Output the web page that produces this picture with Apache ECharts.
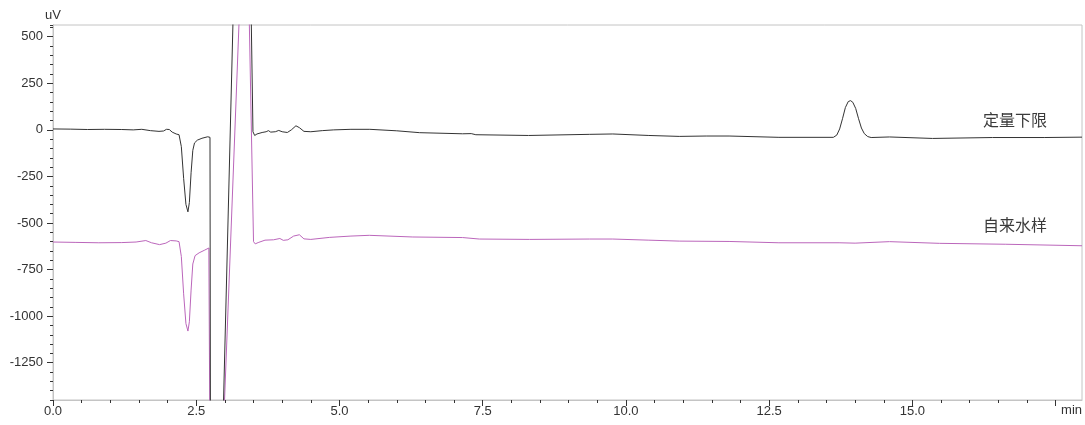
<!DOCTYPE html>
<html>
<head>
<meta charset="utf-8">
<script src="https://cdn.jsdelivr.net/npm/echarts@6/dist/echarts.min.js"></script>
<style>
html,body{margin:0;padding:0;background:#fff;}
#chart{width:1085px;height:425px;}
</style>
</head>
<body>
<div id="chart"></div>
<script>
// ---- data ----
const seriesNames = ['定量下限', '自来水样'];
const seriesColors = ['#333333', '#bb66bb'];

const timeA = [0.00,0.30,0.60,0.90,1.20,1.40,1.55,1.70,1.85,1.93,1.98,2.03,2.08,2.15,2.20,2.24,2.28,2.32,2.355,2.38,2.41,2.44,2.47,2.52,2.60,2.70,2.74,2.75,2.955,3.20,3.30,3.43,3.49,3.52,3.56,3.65,3.72,3.76,3.80,3.88,3.94,4.00,4.09,4.16,4.24,4.30,4.38,4.50,4.70,4.90,5.20,5.53,6.00,6.40,7.15,7.30,7.38,8.30,9.36,9.77,10.40,10.93,11.40,11.80,12.67,13.30,13.62,13.68,13.73,13.78,13.83,13.88,13.92,13.96,14.01,14.06,14.11,14.16,14.22,14.28,14.60,15.35,16.40,17.30,17.96];
const signalA = [5,4,2,3,2,0,3,-4,-8,-6,3,2,-12,-22,-26,-90,-260,-400,-440,-390,-230,-110,-70,-55,-45,-37,-40,-2000,-1720,1300,2600,1200,-10,-30,-22,-14,-10,-4,-12,-10,-3,-10,-14,0,22,12,-8,-10,-4,0,3,3,-5,-15,-21,-20,-26,-30,-24,-22,-30,-35,-33,-33,-40,-40,-40,-28,5,60,120,152,157,148,115,60,10,-20,-36,-41,-38,-46,-41,-41,-39];

const timeB = [0.00,0.40,0.80,1.20,1.45,1.62,1.72,1.86,1.97,2.05,2.15,2.20,2.24,2.28,2.32,2.355,2.38,2.41,2.44,2.48,2.55,2.65,2.72,2.735,2.745,2.96,3.30,3.40,3.50,3.53,3.58,3.70,3.85,3.96,4.02,4.10,4.20,4.30,4.38,4.50,4.83,5.20,5.52,6.28,7.15,7.44,8.32,9.36,9.77,10.40,10.93,11.80,12.67,13.72,14.00,14.60,15.47,16.63,17.96];
const signalB = [-602,-604,-606,-605,-602,-594,-606,-616,-608,-594,-596,-600,-680,-880,-1040,-1080,-1030,-860,-720,-675,-660,-645,-634,-640,-2000,-1725,1000,1000,-600,-612,-605,-592,-590,-583,-593,-590,-570,-563,-585,-588,-577,-570,-566,-575,-578,-586,-588,-586,-586,-592,-597,-599,-606,-606,-608,-600,-609,-614,-622];

// text labels placed beside each trace (time, value)
const labelTimes = [16.79, 16.79];
const labelValues = [54, -512];

// axes
const xMin = 0, xMax = 17.96;
const yMin = -1450, yMax = 563;
const yStep = 50;
const xMajorTicks = [0, 2.5, 5, 7.5, 10, 12.5, 15, 17.5];
const xTickLabels = [0, 2.5, 5, 7.5, 10, 12.5, 15];
const xMinorTicks = [0,0.5,1,1.5,2,2.5,3,3.5,4,4.5,5,5.5,6,6.5,7,7.5,8,8.5,9,9.5,10,10.5,11,11.5,12,12.5,13,13.5,14,14.5,15,15.5,16,16.5,17,17.5];
const yMajorTicks = [-1250, -1000, -750, -500, -250, 0, 250, 500];

// ---- chart ----
const zip = (t, v) => t.map((x, i) => [x, v[i]]);
const FONT = '"Liberation Sans", Arial, sans-serif';
const chart = echarts.init(document.getElementById('chart'), null, {renderer: 'canvas'});

const axisGray = '#c4c4c4';
const tickDark = '#333';

function makeSeries(i, t, v) {
  return {
    name: seriesNames[i],
    type: 'line',
    xAxisIndex: 0,
    yAxisIndex: 0,
    data: zip(t, v),
    showSymbol: false,
    symbol: 'none',
    lineStyle: {color: seriesColors[i], width: 1},
    itemStyle: {color: seriesColors[i]},
    clip: true,
    silent: true,
    z: i === 0 ? 3 : 2,
    markPoint: {
      silent: true,
      symbol: 'circle',
      symbolSize: 0,
      itemStyle: {color: 'rgba(0,0,0,0)'},
      data: [{
        coord: [labelTimes[i], labelValues[i]],
        label: {
          show: true,
          position: 'inside',
          formatter: seriesNames[i],
          color: '#3a3a3a',
          fontSize: 16,
          fontFamily: '"Noto Sans CJK SC", sans-serif'
        }
      }]
    }
  };
}

chart.setOption({
  animation: false,
  backgroundColor: '#fff',
  grid: {left: 53, right: 2, top: 25, bottom: 25, show: true, borderColor: axisGray, borderWidth: 1, containLabel: false},
  xAxis: [
    {
      type: 'value', min: xMin, max: xMax, position: 'bottom',
      name: 'min', nameLocation: 'end', nameGap: 0,
      nameTextStyle: {color: tickDark, fontSize: 13, fontFamily: FONT, align: 'right', verticalAlign: 'top', padding: [4, 0, 0, 0]},
      axisLine: {show: true, onZero: false, lineStyle: {color: axisGray, width: 1}},
      axisTick: {show: true, customValues: xMajorTicks, length: 6, lineStyle: {color: tickDark, width: 1}},
      axisLabel: {show: true, customValues: xTickLabels, formatter: v => Number(v).toFixed(1), margin: 5, color: tickDark, fontSize: 13, fontFamily: FONT},
      splitLine: {show: false}
    },
    {
      type: 'value', min: xMin, max: xMax, position: 'bottom',
      axisLine: {show: false, onZero: false},
      axisTick: {show: true, customValues: xMinorTicks, length: 3, lineStyle: {color: tickDark, width: 1}},
      axisLabel: {show: false},
      splitLine: {show: false}
    }
  ],
  yAxis: [
    {
      // primary axis: regular 50-unit ticks (short), labels only at the 250 multiples
      type: 'value', min: yMin, max: yMax, interval: yStep, position: 'left',
      name: 'uV', nameLocation: 'end', nameGap: 3,
      nameTextStyle: {color: tickDark, fontSize: 13, fontFamily: FONT},
      axisLine: {show: true, onZero: false, lineStyle: {color: axisGray, width: 1}},
      axisTick: {show: true, length: 3, lineStyle: {color: tickDark, width: 1}},
      axisLabel: {show: true, customValues: yMajorTicks, formatter: v => String(v), margin: 10, color: tickDark, fontSize: 13, fontFamily: FONT},
      splitLine: {show: false}
    },
    {
      // second axis carrying the longer major ticks
      type: 'value', min: yMin, max: yMax, position: 'left',
      axisLine: {show: true, onZero: false, lineStyle: {color: axisGray, width: 1}},
      axisTick: {show: true, customValues: yMajorTicks, length: 6, lineStyle: {color: tickDark, width: 1}},
      axisLabel: {show: false},
      splitLine: {show: false}
    }
  ],
  series: [
    makeSeries(1, timeB, signalB),
    makeSeries(0, timeA, signalA)
  ]
});
</script>
</body>
</html>
